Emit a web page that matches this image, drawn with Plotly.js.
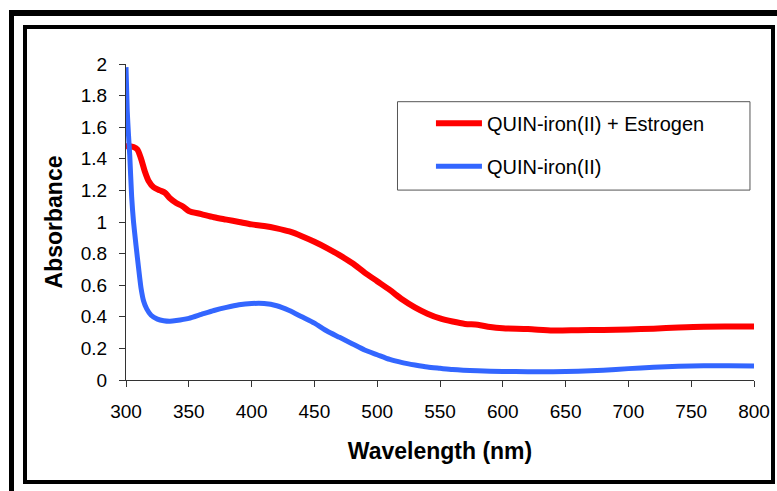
<!DOCTYPE html>
<html>
<head>
<meta charset="utf-8">
<script src="https://cdn.plot.ly/plotly-3.0.1.min.js"></script>
<style>
  html, body { margin: 0; padding: 0; background: #ffffff; }
  #wrap { position: relative; width: 777px; height: 491px; overflow: hidden; background: #ffffff; }
  #outerL { position: absolute; left: 9px; top: 10px; width: 5px; height: 481px; background: #000; }
  #outerT { position: absolute; left: 9px; top: 10px; width: 768px; height: 6px; background: #000; }
  #inner { position: absolute; left: 23px; top: 25px; width: 744px; height: 451px; border: 4px solid #000; }
  #chart { position: absolute; left: 0; top: 0; width: 777px; height: 491px; }
</style>
</head>
<body>
<div id="wrap">
  <div id="outerL"></div>
  <div id="outerT"></div>
  <div id="inner"></div>
  <div id="chart"></div>
</div>
<script>
// Wavelength (nm) and absorbance readings
const redName = "QUIN-iron(II) + Estrogen";
const redX = [300,303,306,309,312,315,318,322,327,331,335,340,345,350,360,370,380,390,400,410,420,430,440,450,460,470,480,490,500,510,520,530,540,550,560,570,580,590,600,620,640,660,680,700,720,740,760,780,800];
const redY = [1.48,1.48,1.475,1.46,1.40,1.32,1.26,1.22,1.20,1.185,1.15,1.12,1.10,1.07,1.05,1.03,1.015,1.0,0.985,0.975,0.96,0.94,0.91,0.875,0.835,0.79,0.74,0.68,0.625,0.57,0.51,0.46,0.42,0.39,0.37,0.355,0.35,0.335,0.327,0.322,0.313,0.315,0.317,0.32,0.325,0.332,0.337,0.338,0.338];

const blueName = "QUIN-iron(II)";
const blueX = [300,301,302,303,304.5,306,308,310,312,314,316.5,320,325,330,335,340,350,360,370,380,390,400,410,420,430,440,450,460,470,480,490,500,510,520,530,540,550,560,580,600,620,640,660,680,700,720,740,760,780,800];
const blueY = [1.98,1.70,1.55,1.42,1.16,1.0,0.85,0.71,0.58,0.50,0.45,0.41,0.385,0.375,0.372,0.376,0.39,0.415,0.44,0.46,0.476,0.484,0.484,0.47,0.44,0.40,0.36,0.31,0.27,0.23,0.19,0.16,0.13,0.11,0.095,0.082,0.074,0.066,0.058,0.054,0.053,0.053,0.056,0.062,0.072,0.08,0.087,0.09,0.09,0.088];

const xTicks = [300,350,400,450,500,550,600,650,700,750,800];
const yTicks = [0,0.2,0.4,0.6,0.8,1,1.2,1.4,1.6,1.8,2];

const FONT = '"Liberation Sans", Arial, sans-serif';

const traces = [
  { x: redX, y: redY, name: redName, type: 'scatter', mode: 'lines',
    line: { color: '#ff0000', width: 6, shape: 'spline', smoothing: 0.8 }, legendgroup: 'a' },
  { x: blueX, y: blueY, name: blueName, type: 'scatter', mode: 'lines',
    line: { color: '#3366ff', width: 5, shape: 'spline', smoothing: 0.6 }, legendgroup: 'b' }
];

const layout = {
  width: 777, height: 491,
  paper_bgcolor: 'rgba(0,0,0,0)',
  plot_bgcolor: 'rgba(0,0,0,0)',
  margin: { l: 126, r: 23, t: 64, b: 111, pad: 0 },
  font: { family: FONT, size: 19, color: '#000' },
  showlegend: true,
  legend: {
    x: 0.4856, y: 0.874, xanchor: 'left', yanchor: 'top',
    bgcolor: 'rgba(0,0,0,0)', borderwidth: 0,
    tracegroupgap: 14, itemwidth: 46,
    font: { family: FONT, size: 20, color: '#000' }
  },
  xaxis: {
    range: [300, 800], tickvals: xTicks, ticktext: xTicks.map(String),
    showgrid: false, zeroline: false, showline: true, linecolor: '#333', linewidth: 1,
    ticks: 'outside', ticklen: 6, tickcolor: '#333', ticklabelstandoff: 8,
    tickfont: { family: FONT, size: 19, color: '#000' },
    title: { text: 'Wavelength (nm)', font: { family: FONT, size: 23, color: '#000', weight: 'bold' }, standoff: 22 },
    automargin: false
  },
  yaxis: {
    range: [0, 2], tickvals: yTicks, ticktext: yTicks.map(String),
    showgrid: false, zeroline: false, showline: true, linecolor: '#333', linewidth: 1,
    ticks: 'outside', ticklen: 6, tickcolor: '#333', ticklabelstandoff: 8,
    tickfont: { family: FONT, size: 19, color: '#000' },
    title: { text: 'Absorbance', font: { family: FONT, size: 23, color: '#000', weight: 'bold' }, standoff: 11 },
    automargin: false
  },
  shapes: [
    { type: 'rect', xref: 'paper', yref: 'paper', x0: 0.4323, x1: 0.9936, y0: 0.601, y1: 0.8807,
      line: { color: '#555', width: 1 }, fillcolor: 'rgba(0,0,0,0)', layer: 'below' }
  ]
};

Plotly.newPlot('chart', traces, layout, { displayModeBar: false, staticPlot: true });
</script>
</body>
</html>
